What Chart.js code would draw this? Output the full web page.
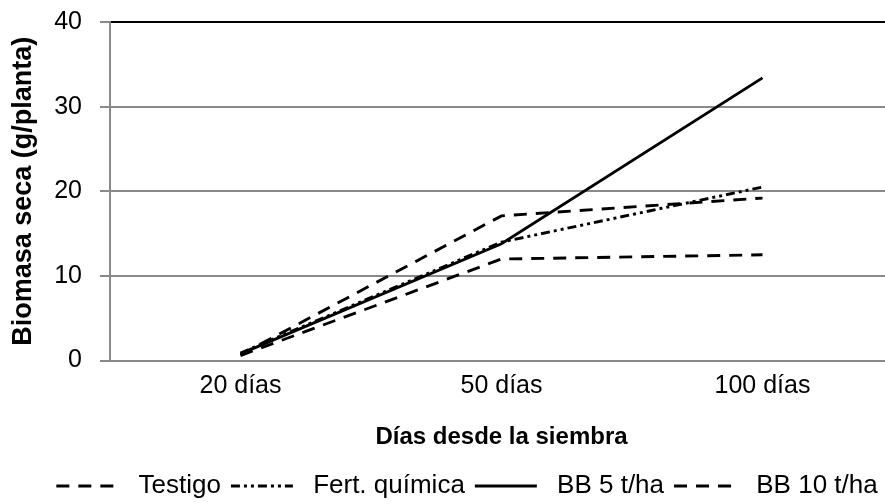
<!DOCTYPE html>
<html>
<head>
<meta charset="utf-8">
<script src="https://cdn.jsdelivr.net/npm/chart.js@4"></script>
<style>
  html, body { margin: 0; padding: 0; background: #fff; overflow: hidden; }
  #wrap { width: 885px; height: 504px; overflow: hidden; }
  #c { display: block; }
</style>
</head>
<body>
<div id="wrap"><canvas id="c" width="934" height="509"></canvas></div>
<script>
// Biomasa seca por planta a lo largo del ciclo
const categories = ['20 días', '50 días', '100 días'];
const testigo = [0.6, 12.0, 12.5];
const fertQuimica = [0.9, 14.0, 20.5];
const bb5 = [0.8, 13.8, 33.4];
const bb10 = [0.7, 17.1, 19.2];
const yTicks = [0, 10, 20, 30, 40];

const FONT = "'Liberation Sans', Arial, sans-serif";
const DASH = [13, 9];
const DASH_DOT_DOT = [9, 4, 3, 4, 3, 4];
const LINE_W = 2.9;

function series(label, data, dash) {
  return {
    label, data,
    borderColor: '#000', backgroundColor: '#000',
    borderWidth: LINE_W, borderDash: dash,
    pointRadius: 0, pointHoverRadius: 0,
    tension: 0, fill: false
  };
}

new Chart(document.getElementById('c'), {
  type: 'line',
  data: {
    labels: categories,
    datasets: [
      series('Testigo', testigo, DASH),
      series('Fert. química', fertQuimica, DASH_DOT_DOT),
      series('BB 5 t/ha', bb5, []),
      series('BB 10 t/ha', bb10, DASH)
    ]
  },
  options: {
    responsive: false,
    animation: false,
    events: [],
    layout: { padding: { top: 22, left: 0, right: 0, bottom: 0 } },
    plugins: {
      tooltip: { enabled: false },
      legend: {
        position: 'bottom',
        labels: {
          usePointStyle: true,
          pointStyle: 'line',
          pointStyleWidth: 62,
          padding: 10,
          color: '#000',
          font: { family: FONT, size: 26 },
          // legend samples carry each series' own dash pattern
          generateLabels: (chart) => chart.data.datasets.map((ds, i) => ({
            text: ' ' + ds.label,
            fillStyle: '#000',
            strokeStyle: '#000',
            fontColor: '#000',
            lineWidth: LINE_W,
            lineDash: ds.borderDash,
            lineCap: 'butt',
            pointStyle: 'line',
            hidden: false,
            datasetIndex: i
          }))
        }
      }
    },
    scales: {
      x: {
        type: 'category',
        offset: true,
        grid: { display: false, drawTicks: false },
        border: { display: false },
        ticks: { color: '#000', padding: 10.5, font: { family: FONT, size: 25 } },
        title: {
          display: true, text: 'Días desde la siembra', color: '#000',
          font: { family: FONT, size: 24, weight: 'bold' },
          padding: { top: 11, bottom: 11.6 }
        }
      },
      y: {
        min: 0, max: 40,
        afterBuildTicks: (s) => { s.ticks = yTicks.map(v => ({ value: v })); },
        afterFit: (s) => { s.width = 110; s.paddingTop = 0; s.paddingBottom = 0; },
        grid: {
          color: (ctx) => ctx.tick && ctx.tick.value === 40 ? '#000' : '#8a8a8a',
          lineWidth: 2,
          tickColor: '#8a8a8a',
          tickLength: 10
        },
        border: { display: true, color: '#8a8a8a', width: 2 },
        ticks: { color: '#000', padding: 18, font: { family: FONT, size: 25 } },
        title: {
          display: true, text: 'Biomasa seca (g/planta)', color: '#000',
          font: { family: FONT, size: 27, weight: 'bold' },
          padding: { top: 7, bottom: 0 }
        }
      },
      yRight: {
        position: 'right',
        display: true,
        grid: { display: false },
        border: { display: false },
        ticks: { display: false },
        afterFit: (s) => { s.width = 41; }
      }
    }
  }
});
</script>
</body>
</html>
